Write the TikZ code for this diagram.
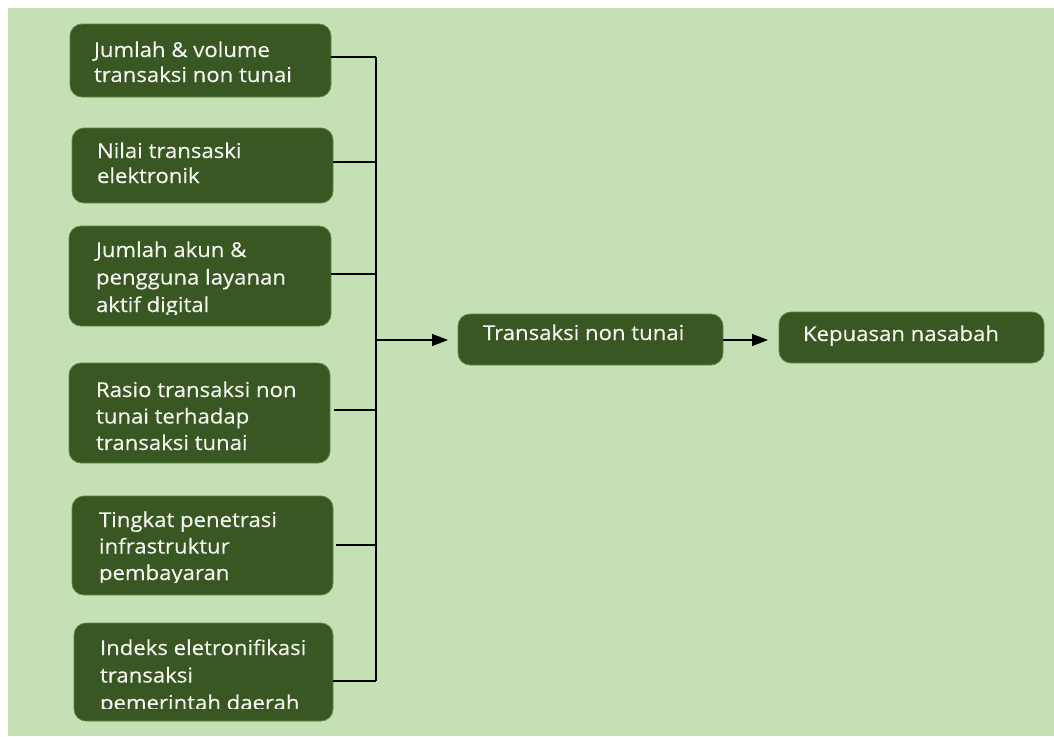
\documentclass[tikz,border=0pt]{standalone}
\usepackage{fontspec}
\setmainfont{Open Sans}[FakeStretch=1.08,FakeBold=0.4]
\usetikzlibrary{arrows.meta}
\definecolor{bgc}{HTML}{C5E0B4}
\definecolor{boxfill}{HTML}{385723}
\definecolor{boxline}{HTML}{5E8B3E}
\definecolor{txtc}{HTML}{F4F4F0}
\newcommand\bt[2]{\parbox[t]{240pt}{\fontsize{20.5}{#1}\selectfont\raggedright #2}}
\tikzset{
  boxnode/.style={draw=boxline, fill=boxfill, rounded corners=12pt, line width=0.8pt, inner sep=0pt, outer sep=0pt},
  txt/.style={text=txtc, inner sep=0pt, outer sep=0pt, anchor=base west, font=\fontsize{20.5}{25}\selectfont},
  conn/.style={line width=1.4pt, black},
  arr/.style={conn, -{Triangle[length=16pt,width=12pt]}}
}
\begin{document}
\begin{tikzpicture}[x=1pt,y=-1pt]
\useasboundingbox (0,0) rectangle (1054,736);
\fill[white] (0,0) rectangle (1054,736);
\fill[bgc] (8,8) rectangle (1054,736);

% left boxes
\node[boxnode, minimum width=261pt, minimum height=73pt] (b1) at (200.5,60.5) {};
\node[boxnode, minimum width=261pt, minimum height=75pt] (b2) at (202.5,165.5) {};
\node[boxnode, minimum width=262pt, minimum height=100pt] (b3) at (200,276) {};
\node[boxnode, minimum width=261pt, minimum height=100pt] (b4) at (199.5,413) {};
\node[boxnode, minimum width=261pt, minimum height=99pt] (b5) at (202.5,545.5) {};
\node[boxnode, minimum width=259pt, minimum height=98pt] (b6) at (203.5,672) {};

% right boxes
\node[boxnode, minimum width=265pt, minimum height=51pt] (tn) at (590.5,339.5) {};
\node[boxnode, minimum width=265pt, minimum height=51pt] (kn) at (911.5,337.5) {};

% texts
\node[txt] (t1) at (94,57) {\bt{25}{Jumlah \& volume\\transaksi non tunai}};
\node[txt] (t2) at (97,158) {\bt{25}{Nilai transaski\\elektronik}};
\begin{scope}
  \clip (b3.north west) rectangle ([yshift=12pt]b3.south east);
  \node[txt] (t3) at (96,257) {\bt{27.5}{Jumlah akun \&\\pengguna layanan\\aktif digital}};
\end{scope}
\begin{scope}
  \clip (b4.north west) rectangle ([yshift=13pt]b4.south east);
  \node[txt] (t4) at (96,397) {\bt{26.5}{Rasio transaksi non\\tunai terhadap\\transaksi tunai}};
\end{scope}
\begin{scope}
  \clip (b5.north west) rectangle ([yshift=13pt]b5.south east);
  \node[txt] (t5) at (99,527) {\bt{26.5}{Tingkat penetrasi\\infrastruktur\\pembayaran}};
\end{scope}
\begin{scope}
  \clip (b6.north west) rectangle ([yshift=13pt]b6.south east);
  \node[txt] (t6) at (100,655) {\bt{27.5}{Indeks eletronifikasi\\transaksi\\pemerintah daerah}};
\end{scope}
\node[txt] (t7) at (483,340) {Transaksi non tunai};
\node[txt] (t8) at (803,341) {Kepuasan nasabah};

% connectors
\coordinate (j1) at (376,57);
\coordinate (j2) at (376,162);
\coordinate (j3) at (376,274);
\coordinate (j4) at (376,410);
\coordinate (j5) at (376,545);
\coordinate (j6) at (376,681);
\coordinate (jm) at (376,340);
\draw[conn] (b1.east |- j1) -- (j1);
\draw[conn] (b2.east |- j2) -- (j2);
\draw[conn] (b3.east |- j3) -- (j3);
\draw[conn] ([xshift=4pt]b4.east |- j4) -- (j4);
\draw[conn] ([xshift=3pt]b5.east |- j5) -- (j5);
\draw[conn] (b6.east |- j6) -- (j6);
\draw[conn] (j1) -- (j6);
\draw[arr] (jm) -- ([xshift=-10pt]tn.west |- jm);
\draw[arr] (tn.east |- jm) -- ([xshift=-11pt]kn.west |- jm);
\end{tikzpicture}
\end{document}
